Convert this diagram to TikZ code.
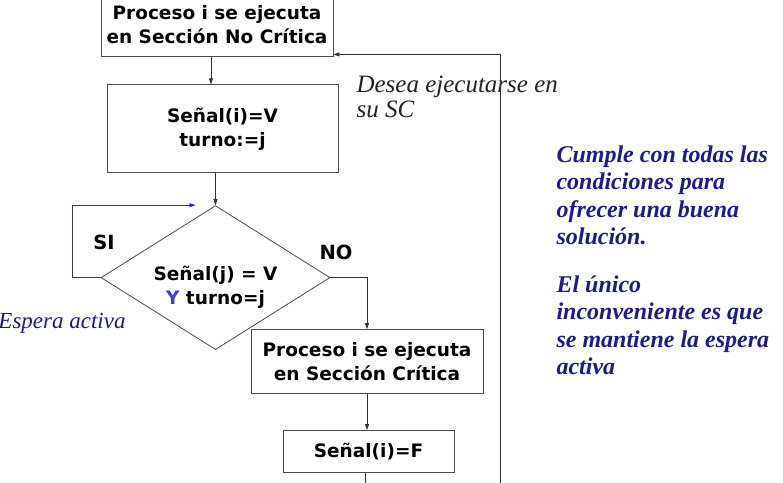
\documentclass[tikz,border=0pt]{standalone}
\usepackage{fontspec}
\setmainfont{Liberation Serif}
\newfontfamily\cajafont{DejaVu Sans}
\usetikzlibrary{shapes.geometric,positioning,arrows.meta}
\definecolor{azultexto}{RGB}{28,28,140}
\definecolor{azuly}{RGB}{60,60,215}
\definecolor{lineabucle}{RGB}{45,45,165}
\definecolor{gristexto}{RGB}{35,35,35}

\begin{document}
\begin{tikzpicture}[x=1pt, y=-1pt,
    caja/.style={rectangle, draw=black!70, line width=0.8pt, align=center, inner sep=0pt, font=\cajafont\bfseries\fontsize{18.5}{24}\selectfont},
    decision/.style={diamond, draw=black!70, line width=0.8pt, aspect=1.59, minimum width=229pt, minimum height=144pt, inner sep=0pt},
    etiqueta/.style={font=\cajafont\bfseries\fontsize{19.5}{24}\selectfont},
    nota/.style={font=\itshape\fontsize{23}{25}\selectfont, text=gristexto},
    flecha/.style={draw=black!80, line width=0.8pt, -{Triangle[length=6pt,width=4pt]}},
    bucle/.style={draw=lineabucle, line width=0.8pt, -{Triangle[length=6pt,width=4pt]}}]
    \useasboundingbox (0,0) rectangle (783,482);
    \fill[white] (0,0) rectangle (783,482);

    % Seccion no critica - arriba
    \node [caja, minimum width=232pt, minimum height=62pt] (nocritica) at (217,25) {Proceso i se ejecuta\\en Sección No Crítica};

    % Senal(i) y turno
    \node [caja, minimum width=231pt, minimum height=88pt, below=28pt of nocritica, xshift=5.5pt] (senal) {Señal(i)=V\\turno:=j};

    % Condicion de espera
    \node [decision, below=32pt of senal, xshift=-7pt] (cond) {};
    \node [caja, draw=none] (condtexto) at ([yshift=-10pt]cond.center) {Señal(j) = V\\{\color{azuly}Y} turno=j};

    % Seccion critica
    \node [caja, minimum width=232pt, minimum height=64pt, below=156pt of senal.south, xshift=144.5pt] (critica) {Proceso i se ejecuta\\en Sección Crítica};

    % Salida
    \node [caja, minimum width=171pt, minimum height=42pt, below=36pt of critica, xshift=1.5pt] (salida) {Señal(i)=F};

    % Etiquetas y notas
    \node [etiqueta] (si) at (104,242) {SI};
    \node [etiqueta] (no) at (336,252) {NO};
    \node [nota, anchor=west, align=left, font=\itshape\fontsize{25}{25}\selectfont] (desea) at (353,97) {Desea ejecutarse en\\su SC};
    \node [nota, text=azultexto] (espera) at (62,323) {Espera activa};
    \node [anchor=north west, align=left, text=azultexto, font=\bfseries\itshape\fontsize{24}{27.5}\selectfont] (conclusion) at (553,142) {Cumple con todas las\\condiciones para\\ofrecer una buena\\solución.\\[20pt]El único\\inconveniente es que\\se mantiene la espera\\activa};

    % Conectores
    \draw [flecha] ([xshift=-6pt]nocritica.south) -- ([xshift=-6pt]nocritica.south |- senal.north);
    \draw [flecha] (senal.south -| cond.north) -- (cond.north);
    \draw [bucle] (cond.west) -- ++(-28,0) |- ([xshift=-20pt]cond.north);
    \draw [flecha] (cond.east) -| (critica.north);
    \draw [flecha] (critica.south) -- (critica.south |- salida.north);
    \draw [draw=black!80, line width=0.8pt] ([xshift=-3pt]salida.south) -- ++(0,20);
    \coordinate (vuelta) at (500,490);
    \draw [flecha] (vuelta) |- ([yshift=2pt]nocritica.south east);
\end{tikzpicture}
\end{document}
